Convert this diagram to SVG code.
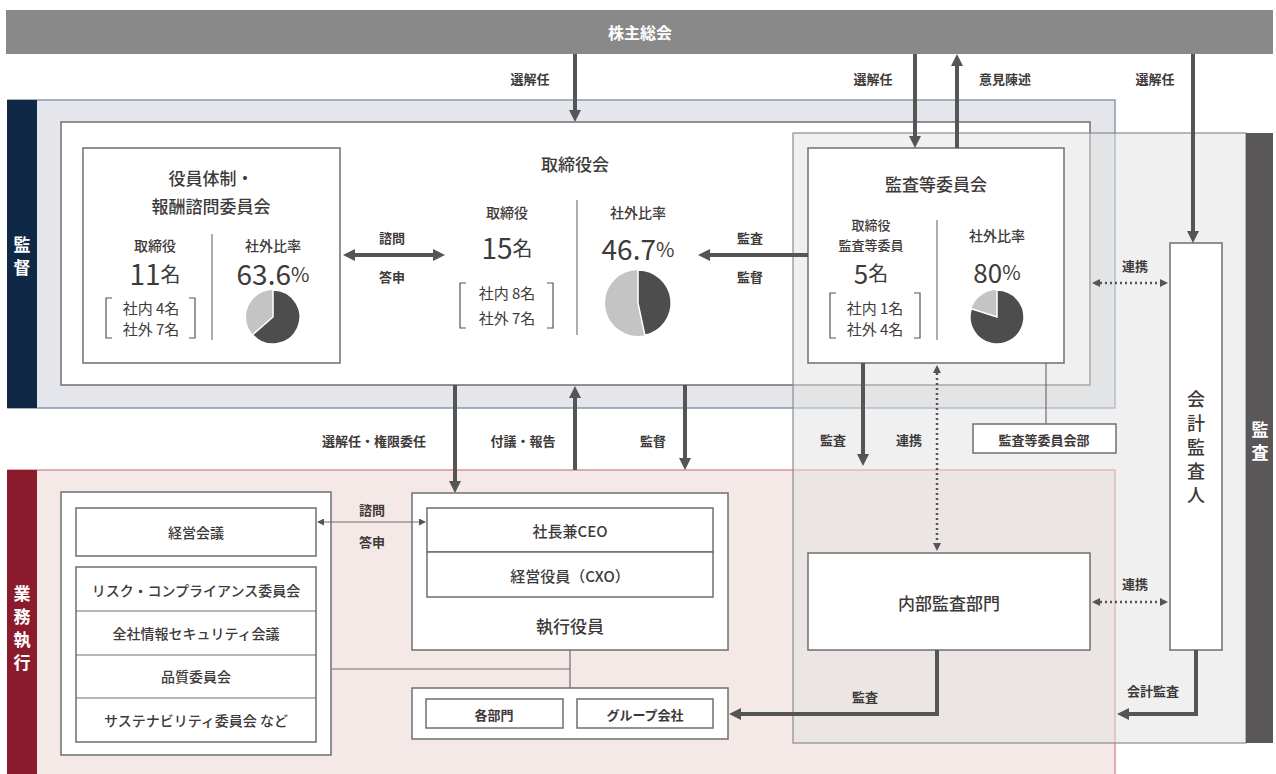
<svg xmlns="http://www.w3.org/2000/svg" width="1276" height="774" viewBox="0 0 1276 774">
<style>
text{font-family:"Noto Sans CJK JP","Noto Sans",sans-serif;fill:#3e3a39;text-anchor:middle;dominant-baseline:central}
.lbl{font-size:13px;font-weight:700}
.ttl{font-size:17px;font-weight:500}
.sub{font-size:14px;font-weight:500}
.num{font-size:28px;font-weight:400}
.sm{font-size:20px;font-weight:400}
.mem{font-size:15px;font-weight:400}
.row{font-size:14px;font-weight:500}
.wt{fill:#fff;font-weight:700}
.box{fill:#fff;stroke:#6f6f6f;stroke-width:1.5}
.thin{fill:none;stroke:#6f6f6f;stroke-width:1.2}
.arr{fill:none;stroke:#555;stroke-width:4}
.dot{fill:none;stroke:#555;stroke-width:2.5;stroke-dasharray:2 3}
.div{stroke:#777;stroke-width:1.2}
.br{fill:none;stroke:#555;stroke-width:1.2}
</style>
<defs>
<marker id="ah" viewBox="0 0 12 12" refX="8" refY="6" markerWidth="12" markerHeight="12" markerUnits="userSpaceOnUse" orient="auto-start-reverse"><path d="M0,0 L12,6 L0,12 z" fill="#555"/></marker>
<marker id="ad" viewBox="0 0 8 8" refX="5" refY="4" markerWidth="8" markerHeight="8" markerUnits="userSpaceOnUse" orient="auto-start-reverse"><path d="M0,0 L8,4 L0,8 z" fill="#555"/></marker>
<marker id="at" viewBox="0 0 7 7" refX="6" refY="3.5" markerWidth="7" markerHeight="7" markerUnits="userSpaceOnUse" orient="auto-start-reverse"><path d="M0,0 L7,3.5 L0,7 z" fill="#555"/></marker>
</defs>
<rect width="1276" height="774" fill="#fff"/>

<g id="shareholders">
<rect x="6" y="10" width="1267" height="44" fill="#898989"/>
<text x="640" y="32" class="ttl wt" style="font-size:16px">株主総会</text>
</g>

<g id="supervision-band">
<rect x="8" y="100" width="1107" height="308" fill="#e4e6eb" stroke="#8a99ad" stroke-width="1.5"/>
<rect x="7" y="100" width="30" height="308" fill="#0f2845"/>
<text class="wt" style="font-size:17px"><tspan x="22" y="243">監</tspan><tspan x="22" y="266">督</tspan></text>
</g>

<g id="execution-band">
<rect x="8" y="470" width="1107" height="310" fill="#f4e9e6" stroke="#d4949b" stroke-width="1.5"/>
<rect x="7" y="470" width="30" height="310" fill="#8a1b2c"/>
<text class="wt" style="font-size:17px"><tspan x="22" y="592">業</tspan><tspan x="22" y="615">務</tspan><tspan x="22" y="638">執</tspan><tspan x="22" y="661">行</tspan></text>
</g>

<g id="board">
<rect x="61" y="122" width="1029" height="263" class="box"/>
<text x="575" y="163" class="ttl">取締役会</text>
<text x="507" y="212" class="sub">取締役</text>
<text x="507" y="247" class="num">15<tspan class="sm">名</tspan></text>
<path d="M466,283 H460 V328 H466 M547,283 H553 V328 H547" class="br"/>
<text x="507" y="292" class="mem">社内 8名</text>
<text x="507" y="317" class="mem">社外 7名</text>
<line x1="577" y1="200" x2="577" y2="335" class="div"/>
<text x="638" y="212" class="sub">社外比率</text>
<text x="638" y="248" class="num">46.7<tspan class="sm">%</tspan></text>
<circle cx="638" cy="303" r="33" fill="#c4c4c4"/>
<path d="M638,303 V270 A33,33 0 0 1 644.9,335.3 Z" fill="#4d4d4d" stroke="#fff" stroke-width="1.5"/>
</g>

<g id="nomination-committee">
<rect x="83" y="148" width="257" height="215" class="box"/>
<text x="211" y="177" class="ttl">役員体制・</text>
<text x="211" y="205" class="ttl">報酬諮問委員会</text>
<text x="155" y="245" class="sub">取締役</text>
<text x="155" y="273" class="num">11<tspan class="sm">名</tspan></text>
<path d="M112,298 H106 V338 H112 M189,298 H195 V338 H189" class="br"/>
<text x="151" y="307" class="mem">社内 4名</text>
<text x="151" y="328" class="mem">社外 7名</text>
<line x1="212" y1="234" x2="212" y2="340" class="div"/>
<text x="273" y="245" class="sub">社外比率</text>
<text x="273" y="273" class="num">63.6<tspan class="sm">%</tspan></text>
<circle cx="273" cy="317" r="27" fill="#c4c4c4"/>
<path d="M273,317 V290 A27,27 0 1 1 252.6,334.7 Z" fill="#4d4d4d" stroke="#fff" stroke-width="1.5"/>
</g>

<g id="audit-region">
<rect x="793" y="133" width="453" height="610" fill="#e2e2e2" fill-opacity="0.5" stroke="#8c8c8c" stroke-width="1.2"/>
<rect x="1246" y="133" width="27" height="610" fill="#595757"/>
<text class="wt" style="font-size:17px"><tspan x="1260" y="428">監</tspan><tspan x="1260" y="451">査</tspan></text>
</g>

<g id="audit-committee">
<rect x="808" y="148" width="256" height="215" class="box"/>
<text x="936" y="183" class="ttl">監査等委員会</text>
<text x="871" y="224" class="sub" style="font-size:13px">取締役</text>
<text x="871" y="244" class="sub" style="font-size:13px">監査等委員</text>
<text x="871" y="272" class="num" style="font-size:26px">5<tspan class="sm">名</tspan></text>
<path d="M836,293 H830 V338 H836 M914,293 H920 V338 H914" class="br"/>
<text x="875" y="307" class="mem">社内 1名</text>
<text x="875" y="328" class="mem">社外 4名</text>
<line x1="937" y1="220" x2="937" y2="340" class="div"/>
<text x="997" y="235" class="sub">社外比率</text>
<text x="997" y="271" class="num" style="font-size:26px">80<tspan class="sm">%</tspan></text>
<circle cx="997" cy="317" r="27" fill="#c4c4c4"/>
<path d="M997,317 V290 A27,27 0 1 1 971.3,308.7 Z" fill="#4d4d4d" stroke="#fff" stroke-width="1.5"/>
</g>

<g id="audit-office">
<rect x="973" y="424" width="143" height="29" class="box"/>
<text x="1044" y="439" class="lbl">監査等委員会部</text>
</g>

<g id="accounting-auditor">
<rect x="1170" y="243" width="52" height="407" class="box"/>
<text style="font-size:18px;font-weight:500"><tspan x="1196" y="398">会</tspan><tspan x="1196" y="422">計</tspan><tspan x="1196" y="446">監</tspan><tspan x="1196" y="470">査</tspan><tspan x="1196" y="494">人</tspan></text>
</g>

<g id="internal-audit">
<rect x="808" y="553" width="282" height="97" class="box"/>
<text x="949" y="602" class="ttl">内部監査部門</text>
</g>

<g id="management-meetings">
<rect x="61" y="492" width="270" height="263" class="box"/>
<rect x="76" y="508" width="240" height="48" class="box"/>
<text x="196" y="532" class="row">経営会議</text>
<rect x="76" y="567" width="240" height="175" class="box"/>
<line x1="76" y1="611" x2="316" y2="611" class="thin"/>
<line x1="76" y1="655" x2="316" y2="655" class="thin"/>
<line x1="76" y1="698" x2="316" y2="698" class="thin"/>
<text x="196" y="590" class="row">リスク・コンプライアンス委員会</text>
<text x="196" y="633" class="row">全社情報セキュリティ会議</text>
<text x="196" y="676" class="row">品質委員会</text>
<text x="196" y="720" class="row">サステナビリティ委員会 など</text>
</g>

<g id="executives">
<rect x="412" y="493" width="316" height="157" class="box"/>
<rect x="427" y="508" width="286" height="44" class="box"/>
<rect x="427" y="552" width="286" height="45" class="box"/>
<text x="570" y="530" class="row" style="font-size:15px">社長兼CEO</text>
<text x="570" y="575" class="row" style="font-size:15px">経営役員（CXO）</text>
<text x="570" y="625" class="ttl">執行役員</text>
</g>

<g id="departments">
<rect x="412" y="688" width="316" height="51" class="box"/>
<rect x="426" y="699" width="137" height="29" class="box"/>
<rect x="577" y="699" width="136" height="29" class="box"/>
<text x="494" y="714" class="lbl">各部門</text>
<text x="645" y="714" class="lbl">グループ会社</text>
</g>

<g id="connectors">
<path d="M575,54 V118" class="arr" marker-end="url(#ah)"/>
<path d="M915,54 V144" class="arr" marker-end="url(#ah)"/>
<path d="M957,148 V58" class="arr" marker-end="url(#ah)"/>
<path d="M1193,54 V239" class="arr" marker-end="url(#ah)"/>
<path d="M347,255 H441" class="arr" marker-start="url(#ah)" marker-end="url(#ah)"/>
<path d="M808,255 H702" class="arr" marker-end="url(#ah)"/>
<path d="M455,385 V489" class="arr" marker-end="url(#ah)"/>
<path d="M575,470 V390" class="arr" marker-end="url(#ah)"/>
<path d="M685,385 V466" class="arr" marker-end="url(#ah)"/>
<path d="M863,363 V462" class="arr" marker-end="url(#ah)"/>
<path d="M937,650 V714 H733" class="arr" marker-end="url(#ah)"/>
<path d="M1196,650 V714 H1121" class="arr" marker-end="url(#ah)"/>
<path d="M937,368 V548" class="dot" marker-start="url(#ad)" marker-end="url(#ad)"/>
<path d="M1095,283 H1165" class="dot" marker-start="url(#ad)" marker-end="url(#ad)"/>
<path d="M1095,602 H1165" class="dot" marker-start="url(#ad)" marker-end="url(#ad)"/>
<path d="M318,522 H425" class="thin" stroke="#555" marker-start="url(#at)" marker-end="url(#at)"/>
<path d="M331,669 H570 M570,650 V688" class="thin"/>
<path d="M1046,363 V424" class="thin"/>
<text x="530" y="78" class="lbl">選解任</text>
<text x="873" y="78" class="lbl">選解任</text>
<text x="1005" y="78" class="lbl">意見陳述</text>
<text x="1155" y="78" class="lbl">選解任</text>
<text x="392" y="237" class="lbl">諮問</text>
<text x="392" y="276" class="lbl">答申</text>
<text x="750" y="237" class="lbl">監査</text>
<text x="750" y="276" class="lbl">監督</text>
<text x="374" y="440" class="lbl">選解任・権限委任</text>
<text x="523" y="440" class="lbl">付議・報告</text>
<text x="653" y="440" class="lbl">監督</text>
<text x="833" y="439" class="lbl">監査</text>
<text x="909" y="439" class="lbl">連携</text>
<text x="1135" y="265" class="lbl">連携</text>
<text x="1135" y="583" class="lbl">連携</text>
<text x="372" y="509" class="lbl">諮問</text>
<text x="372" y="541" class="lbl">答申</text>
<text x="865" y="696" class="lbl">監査</text>
<text x="1153" y="690" class="lbl">会計監査</text>
</g>
</svg>
